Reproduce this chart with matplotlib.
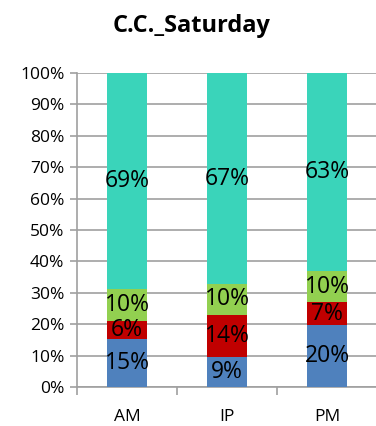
import numpy as np
import matplotlib
matplotlib.use("Agg")
import matplotlib.pyplot as plt

categories = ["AM", "IP", "PM"]
blue_vals = [15.2, 9.4, 19.7]
red_vals = [5.9, 13.6, 7.3]
green_vals = [10.0, 9.8, 10.0]
teal_vals = [68.9, 67.2, 63.0]

series = [blue_vals, red_vals, green_vals, teal_vals]
colors = ["#4F81BD", "#C00000", "#92D050", "#3AD4BA"]

plt.rcParams['font.family'] = ['Open Sans', 'DejaVu Sans']

fig = plt.figure(figsize=(3.76, 4.26), dpi=100)
ax = fig.add_axes([77 / 376, 1 - 387 / 426, 300 / 376, 314 / 426])

x = np.arange(len(categories))
bottom = np.zeros(len(categories))
for vals, col in zip(series, colors):
    vals = np.array(vals)
    ax.bar(x, vals, width=0.4, bottom=bottom, color=col, zorder=3)
    for xi, b, v in zip(x, bottom, vals):
        ax.text(xi, b + v / 2, "%d%%" % round(v), ha="center", va="center",
                fontsize=16.5, color="black", zorder=4)
    bottom += vals

ax.set_xlim(-0.5, 2.5)
ax.set_ylim(0, 100)
ax.set_yticks(np.arange(0, 101, 10))
ax.set_yticklabels(["%d%%" % v for v in range(0, 101, 10)], fontsize=12.5)
ax.yaxis.grid(True, color="#A0A0A0", linewidth=1.2, zorder=0)
ax.tick_params(axis="y", length=5, color="#A0A0A0", width=1.2, pad=4)

ax.set_xticks([-0.5, 0.5, 1.5, 2.5])
ax.set_xticklabels([])
ax.set_xticks(x, minor=True)
ax.set_xticklabels(categories, minor=True, fontsize=12.5)
ax.tick_params(axis="x", which="major", length=6, color="#A0A0A0", width=1.2)
ax.tick_params(axis="x", which="minor", length=0, pad=16)

for s in ["top", "right"]:
    ax.spines[s].set_visible(False)
ax.spines["left"].set_color("#A0A0A0")
ax.spines["left"].set_linewidth(1.2)
ax.spines["bottom"].set_color("#A0A0A0")
ax.spines["bottom"].set_linewidth(1.2)

fig.text(192 / 376, 1 - 26 / 426, "C.C._Saturday", ha="center", va="center",
         fontsize=17, fontweight="bold")

fig.savefig("out.png", dpi=100)
